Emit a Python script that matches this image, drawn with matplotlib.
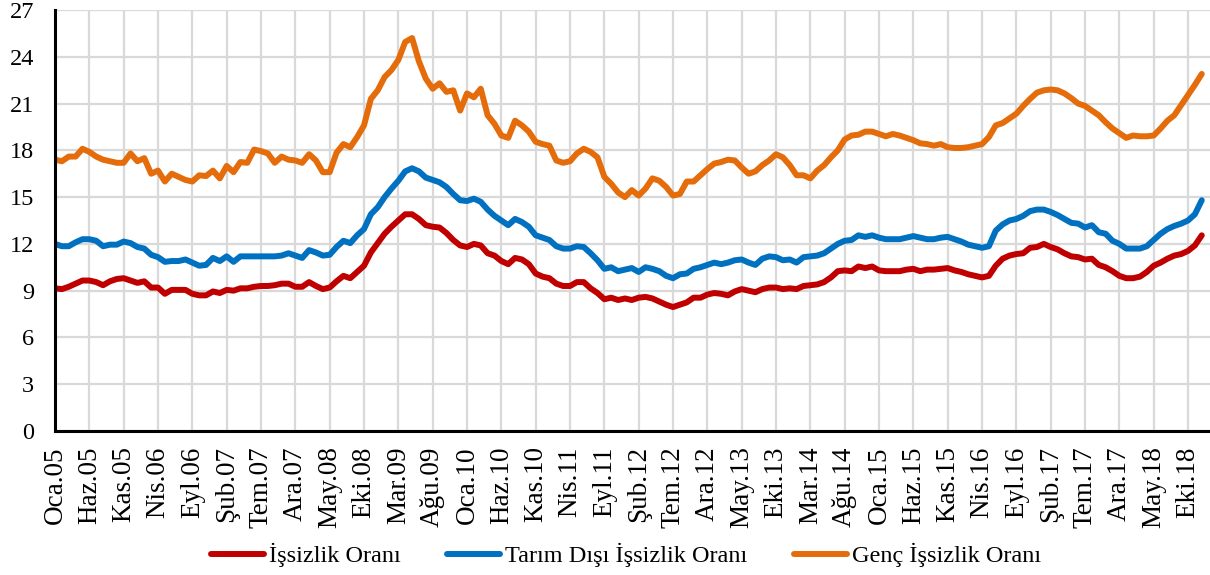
import matplotlib
matplotlib.use("Agg")
from matplotlib import pyplot as plt

# Aylık veriler: Ocak 2005 - Aralık 2018
aylar = ['Oca', 'Şub', 'Mar', 'Nis', 'May', 'Haz',
         'Tem', 'Ağu', 'Eyl', 'Eki', 'Kas', 'Ara']
yillar = list(range(2005, 2019))

issizlik = [
    9.15, 9.1, 9.25, 9.45, 9.65, 9.65, 9.55, 9.35, 9.6, 9.75,
    9.8, 9.65, 9.5, 9.6, 9.2, 9.2, 8.8, 9.05, 9.05, 9.05,
    8.8, 8.7, 8.7, 8.95, 8.85, 9.05, 9.0, 9.15, 9.15, 9.25,
    9.3, 9.3, 9.35, 9.45, 9.45, 9.25, 9.25, 9.55, 9.3, 9.1,
    9.2, 9.6, 9.95, 9.8, 10.2, 10.6, 11.45, 12.05, 12.65, 13.1,
    13.5, 13.9, 13.9, 13.6, 13.2, 13.1, 13.05, 12.7, 12.25, 11.9,
    11.8, 12.0, 11.9, 11.4, 11.25, 10.9, 10.7, 11.1, 11.0, 10.7,
    10.1, 9.9, 9.8, 9.45, 9.3, 9.3, 9.55, 9.55, 9.15, 8.85,
    8.45, 8.55, 8.4, 8.5, 8.4, 8.55, 8.6, 8.5, 8.3, 8.1,
    7.95, 8.1, 8.25, 8.55, 8.55, 8.75, 8.85, 8.8, 8.7, 8.95,
    9.1, 9.0, 8.9, 9.1, 9.2, 9.2, 9.1, 9.15, 9.1, 9.3,
    9.35, 9.4, 9.55, 9.85, 10.25, 10.3, 10.25, 10.55, 10.45, 10.55,
    10.3, 10.25, 10.25, 10.25, 10.35, 10.4, 10.25, 10.35, 10.35, 10.4,
    10.45, 10.3, 10.2, 10.05, 9.95, 9.85, 9.95, 10.6, 11.05, 11.25,
    11.35, 11.4, 11.75, 11.8, 12.0, 11.8, 11.65, 11.4, 11.2, 11.15,
    11.0, 11.05, 10.65, 10.5, 10.25, 9.95, 9.8, 9.8, 9.9, 10.2,
    10.6, 10.8, 11.05, 11.25, 11.35, 11.55, 11.9, 12.55]

tarim_disi = [
    12.0, 11.85, 11.85, 12.1, 12.3, 12.3, 12.2, 11.85, 11.95, 11.95,
    12.15, 12.05, 11.8, 11.7, 11.3, 11.15, 10.85, 10.9, 10.9, 11.0,
    10.8, 10.6, 10.65, 11.1, 10.9, 11.2, 10.85, 11.2, 11.2, 11.2,
    11.2, 11.2, 11.2, 11.25, 11.4, 11.25, 11.1, 11.6, 11.45, 11.25,
    11.3, 11.8, 12.2, 12.05, 12.55, 12.95, 13.9, 14.35, 15.0, 15.55,
    16.05, 16.65, 16.85, 16.65, 16.25, 16.1, 15.95, 15.65, 15.2, 14.8,
    14.75, 14.9, 14.7, 14.2, 13.8, 13.5, 13.2, 13.6, 13.4, 13.1,
    12.55, 12.4, 12.25, 11.85, 11.7, 11.7, 11.85, 11.8, 11.4, 10.95,
    10.4, 10.5, 10.25, 10.35, 10.45, 10.2, 10.5, 10.4, 10.25, 9.95,
    9.8, 10.05, 10.1, 10.4, 10.5, 10.65, 10.8, 10.7, 10.8, 10.95,
    11.0, 10.8, 10.65, 11.05, 11.2, 11.15, 10.95, 11.0, 10.8, 11.15,
    11.2, 11.25, 11.4, 11.7, 12.0, 12.2, 12.25, 12.55, 12.45, 12.55,
    12.4, 12.3, 12.3, 12.3, 12.4, 12.5, 12.4, 12.3, 12.3, 12.4,
    12.45, 12.3, 12.15, 11.95, 11.85, 11.75, 11.85, 12.85, 13.25, 13.5,
    13.6, 13.8, 14.1, 14.2, 14.2, 14.05, 13.85, 13.6, 13.35, 13.3,
    13.05, 13.2, 12.75, 12.65, 12.2, 12.0, 11.7, 11.7, 11.7, 11.85,
    12.25, 12.65, 12.95, 13.15, 13.3, 13.5, 13.9, 14.8]

genc = [
    17.4, 17.3, 17.6, 17.6, 18.1, 17.9, 17.6, 17.4, 17.3, 17.2,
    17.2, 17.8, 17.3, 17.5, 16.5, 16.7, 16.0, 16.5, 16.3, 16.1,
    16.0, 16.4, 16.35, 16.7, 16.2, 17.0, 16.6, 17.25, 17.2, 18.05,
    17.95, 17.8, 17.2, 17.6, 17.4, 17.35, 17.2, 17.75, 17.35, 16.6,
    16.6, 17.85, 18.4, 18.2, 18.85, 19.6, 21.3, 21.85, 22.7, 23.15,
    23.8, 24.95, 25.2, 23.7, 22.6, 21.95, 22.3, 21.75, 21.85, 20.55,
    21.65, 21.4, 21.95, 20.25, 19.7, 18.95, 18.8, 19.9, 19.6, 19.2,
    18.55, 18.4, 18.3, 17.35, 17.2, 17.3, 17.8, 18.1, 17.9, 17.55,
    16.3, 15.85, 15.3, 15.0, 15.45, 15.1, 15.55, 16.2, 16.05, 15.65,
    15.1, 15.2, 16.0, 16.0, 16.4, 16.8, 17.15, 17.25, 17.4, 17.35,
    16.9, 16.5, 16.65, 17.05, 17.35, 17.75, 17.55, 17.05, 16.4, 16.4,
    16.2, 16.7, 17.05, 17.55, 18.0, 18.7, 18.95, 19.0, 19.2, 19.2,
    19.05, 18.9, 19.05, 18.95, 18.8, 18.65, 18.45, 18.4, 18.3, 18.4,
    18.2, 18.15, 18.15, 18.2, 18.3, 18.4, 18.85, 19.6, 19.75, 20.05,
    20.35, 20.85, 21.3, 21.7, 21.85, 21.9, 21.85, 21.65, 21.35, 21.0,
    20.85, 20.55, 20.25, 19.8, 19.4, 19.1, 18.8, 18.95, 18.9, 18.9,
    18.95, 19.4, 19.9, 20.25, 20.9, 21.55, 22.2, 22.9]

etiketler = ['%s.%02d' % (a, y % 100) for y in yillar for a in aylar]
x = list(range(len(issizlik)))

plt.rcParams['font.family'] = ['Liberation Serif', 'DejaVu Serif']

fig = plt.figure(figsize=(12.1, 5.75), dpi=100)
ax = fig.add_axes([55 / 1210, 144 / 575, 1155 / 1210, 421 / 575])

cizgi = dict(lw=4.3, solid_capstyle='round', solid_joinstyle='round')
ax.plot(x, issizlik, color='#C00000', label='İşsizlik Oranı', **cizgi)
ax.plot(x, tarim_disi, color='#0070C0', label='Tarım Dışı İşsizlik Oranı', **cizgi)
ax.plot(x, genc, color='#E46C0A', label='Genç İşsizlik Oranı', **cizgi)

ax.set_xlim(0, 168.2)
ax.set_ylim(0, 27)
ax.set_yticks(range(0, 28, 3))
ax.set_xticks(x[::5])
ax.set_xticklabels(etiketler[::5], rotation=90)
ax.tick_params(axis='y', length=0, labelsize=17.5, pad=15)
ax.tick_params(axis='x', length=0, labelsize=19.5, pad=11)

ax.set_axisbelow(True)
ax.grid(True, color='#D9D9D9', lw=1.6)
for s in ['top', 'right']:
    ax.spines[s].set_visible(False)
for s in ['left', 'bottom']:
    ax.spines[s].set_linewidth(2.2)
    ax.spines[s].set_color('black')

fig.legend(loc='center', bbox_to_anchor=(626 / 1210, 1 - 555 / 575), ncol=3,
           frameon=False, fontsize=17.5, handlelength=2.2, handletextpad=0.2,
           columnspacing=1.9)

fig.savefig('out.png', dpi=100)
